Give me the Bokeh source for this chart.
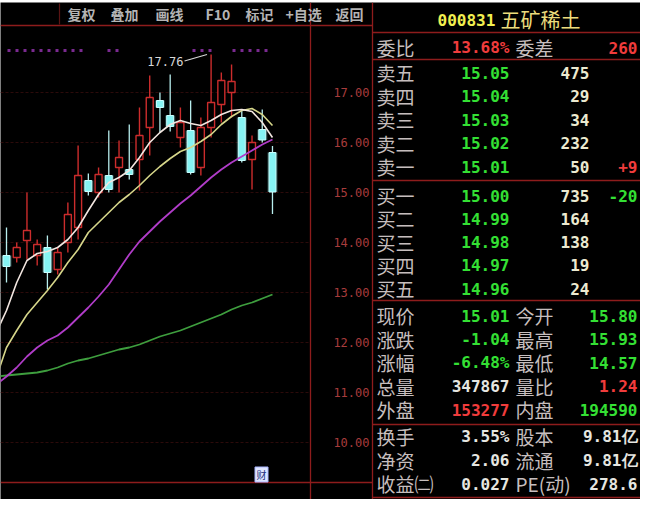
from bokeh.plotting import figure
from bokeh.models import Range1d, ColumnDataSource
from bokeh.core.properties import value
from bokeh.embed import file_html
from bokeh.resources import INLINE

# ---------------- data ----------------
opens  = [13.74, 13.70, 14.04, 13.74, 13.90, 13.46, 14.00, 14.30, 15.24, 15.00,
          15.34, 15.50, 15.46, 15.66, 16.30, 16.84, 16.54, 16.10, 16.24, 15.50,
          16.30, 16.76, 17.00, 16.50, 15.66, 16.26, 15.80]
highs  = [14.30, 14.00, 15.00, 14.06, 14.14, 13.90, 14.80, 15.94, 15.38, 15.50,
          16.24, 16.04, 16.36, 16.70, 17.34, 17.00, 17.36, 16.70, 16.84, 16.50,
          17.76, 17.40, 17.56, 16.66, 16.14, 16.66, 15.93]
lows   = [13.20, 13.60, 13.66, 13.54, 13.06, 13.36, 13.80, 14.06, 14.94, 14.90,
          15.00, 15.00, 15.26, 15.04, 15.74, 16.20, 16.22, 15.90, 15.36, 15.34,
          16.10, 16.40, 16.50, 15.60, 15.06, 16.00, 14.57]
closes = [13.52, 13.90, 14.24, 13.96, 13.40, 13.80, 14.56, 15.34, 15.02, 15.36,
          15.06, 15.70, 15.36, 16.14, 16.90, 16.70, 16.32, 16.40, 15.40, 16.30,
          16.80, 17.24, 17.22, 15.64, 16.00, 16.05, 15.01]

ma_start = -1
ma5  = [12.20, 12.64, 13.20, 13.64, 13.78, 13.82, 13.90, 14.06, 14.30, 14.64,
        14.96, 15.20, 15.30, 15.44, 15.70, 16.00, 16.20, 16.36, 16.44, 16.38,
        16.34, 16.44, 16.56, 16.64, 16.66, 16.62, 16.40, 16.10]
ma10 = [11.30, 11.90, 12.24, 12.56, 12.80, 13.04, 13.30, 13.60, 13.86, 14.20,
        14.40, 14.60, 14.80, 14.96, 15.14, 15.34, 15.52, 15.68, 15.82, 15.90,
        16.02, 16.16, 16.36, 16.52, 16.64, 16.68, 16.56, 16.34]
ma20 = [11.16, 11.32, 11.50, 11.72, 11.90, 12.04, 12.14, 12.30, 12.50, 12.70,
        12.92, 13.16, 13.46, 13.76, 14.02, 14.22, 14.42, 14.60, 14.78, 14.94,
        15.12, 15.30, 15.46, 15.60, 15.72, 15.84, 15.96, 16.06]
ma60 = [11.32, 11.34, 11.36, 11.38, 11.40, 11.44, 11.50, 11.58, 11.64, 11.68,
        11.74, 11.80, 11.86, 11.90, 11.96, 12.04, 12.12, 12.18, 12.24, 12.32,
        12.40, 12.48, 12.56, 12.66, 12.74, 12.80, 12.88, 12.96]

price_ticks = [17, 16, 15, 14, 13, 12, 11, 10]

toolbar_items = ["复权", "叠加", "画线", "F10", "标记", "+自选", "返回"]
stock_code = "000831"
stock_name = "五矿稀土"
wb_row = ["委比", "13.68%", "委差", "260"]
sell_labels = ["卖五", "卖四", "卖三", "卖二", "卖一"]
sell_prices = [15.05, 15.04, 15.03, 15.02, 15.01]
sell_vols = [475, 29, 34, 232, 50]
buy_labels = ["买一", "买二", "买三", "买四", "买五"]
buy_prices = [15.00, 14.99, 14.98, 14.97, 14.96]
buy_vols = [735, 164, 138, 19, 24]
sell_changes = ["", "", "", "", "+9"]
buy_changes = ["-20", "", "", "", ""]
quote_labels_l = ["现价", "涨跌", "涨幅", "总量", "外盘"]
quote_values_l = ["15.01", "-1.04", "-6.48%", "347867", "153277"]
quote_labels_r = ["今开", "最高", "最低", "量比", "内盘"]
quote_values_r = ["15.80", "15.93", "14.57", "1.24", "194590"]
fin_labels_l = ["换手", "净资", "收益㈡"]
fin_values_l = ["3.55%", "2.06", "0.027"]
fin_labels_r = ["股本", "流通", "PE(动)"]
fin_values_r = ["9.81亿", "9.81亿", "278.6"]

# ---------------- style / layout ----------------
RED_C = "#cc2c2c"
CYAN = "#86f4f4"
CYAN_W = "#b8eeee"
GREEN_T = "#34e034"
RED_T = "#f03c3c"
WHITE_T = "#e6e6e0"
VOL_T = "#ecead0"
LAB_T = "#c6bebe"
LINE_R = "#8e1c1c"
GRID_R = "#2c0a0a"
CJK = "Noto Sans CJK SC"
MONO = "DejaVu Sans Mono"

p = figure(width=640, height=499, output_backend="svg", toolbar_location=None,
           x_range=Range1d(8, 648), y_range=Range1d(507, 10),
           x_axis_location=None, y_axis_location=None,
           min_border_left=0, min_border_right=0, min_border_bottom=0, min_border_top=2,
           background_fill_color="#000000", border_fill_color="white",
           outline_line_color=None)
p.grid.visible = False
p.extra_x_ranges = {"idx": Range1d(-0.5865, 61.975)}
p.extra_y_ranges = {"price": Range1d(8.86, 18.8)}

# grid lines at price ticks (chart area)
p.segment(x0=[8] * len(price_ticks), x1=[318] * len(price_ticks),
          y0=price_ticks, y1=price_ticks, y_range_name="price",
          line_color=GRID_R, line_width=1, line_dash="3 2")

# frame lines
p.segment(x0=[8, 318, 380, 8], x1=[380, 318, 380, 380],
          y0=[33, 10, 10, 490], y1=[33, 507, 507, 490],
          line_color=LINE_R, line_width=1.3)
p.segment(x0=[380] * 6, x1=[648] * 6,
          y0=[40, 67, 188, 308, 432, 505], y1=[40, 67, 188, 308, 432, 505],
          line_color=LINE_R, line_width=1.5)
p.segment(x0=[67], x1=[67], y0=[11], y1=[32], line_color="#5a1414", line_width=1.2)

# purple dotted indicator row
p.segment(x0=[15, 115, 200, 240], x1=[90, 130, 222, 277], y0=[58] * 4, y1=[58] * 4,
          line_color="#7a2a90", line_width=3, line_dash="3 5")

# candles
idx = list(range(len(opens)))
def cdict(sel):
    return dict(x=[idx[i] for i in sel],
                top=[max(opens[i], closes[i]) for i in sel],
                bot=[min(opens[i], closes[i]) for i in sel],
                hi=[highs[i] for i in sel], lo=[lows[i] for i in sel])
up_sel = [i for i in idx if closes[i] >= opens[i]]
dn_sel = [i for i in idx if closes[i] < opens[i]]
su = ColumnDataSource(cdict(up_sel))
sd = ColumnDataSource(cdict(dn_sel))
kw = dict(x_range_name="idx", y_range_name="price")
p.segment(x0="x", x1="x", y0="hi", y1="top", source=su, line_color=RED_C, line_width=1.4, **kw)
p.segment(x0="x", x1="x", y0="bot", y1="lo", source=su, line_color=RED_C, line_width=1.4, **kw)
p.vbar(x="x", top="top", bottom="bot", width=0.68, source=su,
       fill_color="#000000", line_color=RED_C, line_width=1.4, **kw)
p.segment(x0="x", x1="x", y0="hi", y1="lo", source=sd, line_color=CYAN_W, line_width=1.3, **kw)
p.vbar(x="x", top="top", bottom="bot", width=1.0, source=sd,
       fill_color=CYAN, fill_alpha=0.25, line_color=None, **kw)
p.vbar(x="x", top="top", bottom="bot", width=0.68, source=sd,
       fill_color=CYAN, line_color="#c8ffff", line_width=1, **kw)

# moving averages
ma_x = [ma_start + k for k in range(len(ma5))]
for vals, col, w in [(ma60, "#3e9e3e", 1.8), (ma20, "#b03cc8", 1.8),
                     (ma10, "#d6d68a", 1.6), (ma5, "#f2e6e0", 1.6)]:
    p.line(ma_x, vals, line_color=col, line_width=w, **kw)

# highest price marker
hi_i = max(idx, key=lambda i: highs[i])
p.segment(x0=[hi_i - 2.6], x1=[hi_i - 0.4], y0=[highs[hi_i] - 0.13], y1=[highs[hi_i]],
          line_color="#d8d8d8", line_width=1.2, **kw)
p.text(x=[hi_i - 2.7], y=[highs[hi_i] - 0.14], text=[f"{highs[hi_i]:.2f}"],
       text_color="#d8d8d8", text_font=value(MONO), text_font_size="12px",
       text_align="right", text_baseline="middle", **kw)

# small icon at bottom of chart
p.rect(x=[269], y=[482], width=13, height=15, fill_color="#dfe6ff", line_color="#a8b4ff")
p.text(x=[269], y=[482], text=["财"], text_color="#203080", text_font=value(CJK),
       text_font_size="10px", text_align="center", text_baseline="middle")

# price axis labels
p.text(x=[377] * len(price_ticks), y=price_ticks, text=[f"{t:.2f}" for t in price_ticks],
       y_range_name="price", text_color="#a83c3c", text_font=value(MONO),
       text_font_size="12px", text_align="right", text_baseline="middle")

# toolbar
tb_x = [75, 118, 163, 213, 253, 293, 343]
p.text(x=tb_x, y=[21] * len(tb_x), text=toolbar_items, text_color="#b4b4b4",
       text_font=value(CJK), text_font_size="14px", text_font_style="bold",
       text_align="left", text_baseline="middle")

def txt(xs, ys, texts, color, size, font, align="left", bold=False):
    src = ColumnDataSource(dict(x=xs, y=ys, t=texts,
                                c=color if isinstance(color, list) else [color] * len(xs)))
    p.text(x="x", y="y", text="t", source=src, text_color="c", text_font_size=size,
           text_font=value(font), text_align=align, text_baseline="middle",
           text_font_style="bold" if bold else "normal")

X_LAB, X_VAL, X_VOL, X_LAB2, X_R = 384, 517, 597, 523, 645

# title
txt([445], [27], [stock_code], "#f2f050", "16px", MONO, bold=True)
txt([508], [27], [stock_name], "#ecdc7c", "20px", CJK)

# 委比 row
txt([X_LAB, X_LAB2], [55, 55], [wb_row[0], wb_row[2]], LAB_T, "19px", CJK)
txt([X_VAL], [55], [wb_row[1]], RED_T, "16px", MONO, "right", True)
txt([X_R], [55], [wb_row[3]], RED_T, "16px", MONO, "right", True)

# order book
sy = [80 + 23.5 * k for k in range(5)]
by = [203 + 23.3 * k for k in range(5)]
txt([X_LAB] * 5, sy, sell_labels, LAB_T, "19px", CJK)
txt([X_VAL] * 5, sy, [f"{v:.2f}" for v in sell_prices], GREEN_T, "16px", MONO, "right", True)
txt([X_VOL] * 5, sy, [str(v) for v in sell_vols], VOL_T, "16px", MONO, "right", True)
txt([X_R] * 5, sy, sell_changes, RED_T, "16px", MONO, "right", True)
txt([X_LAB] * 5, by, buy_labels, LAB_T, "19px", CJK)
txt([X_VAL] * 5, by, [f"{v:.2f}" for v in buy_prices], GREEN_T, "16px", MONO, "right", True)
txt([X_VOL] * 5, by, [str(v) for v in buy_vols], VOL_T, "16px", MONO, "right", True)
txt([X_R] * 5, by, buy_changes, GREEN_T, "16px", MONO, "right", True)

# quote block
qy = [323 + 23.5 * k for k in range(5)]
txt([X_LAB] * 5, qy, quote_labels_l, LAB_T, "19px", CJK)
txt([X_VAL] * 5, qy, quote_values_l, [GREEN_T, GREEN_T, GREEN_T, WHITE_T, RED_T], "16px", MONO, "right", True)
txt([X_LAB2] * 5, qy, quote_labels_r, LAB_T, "19px", CJK)
txt([X_R] * 5, qy, quote_values_r, [GREEN_T, GREEN_T, GREEN_T, RED_T, GREEN_T], "16px", MONO, "right", True)

# finance block
fy = [444 + 23.5 * k for k in range(3)]
txt([X_LAB] * 3, fy, fin_labels_l, LAB_T, "19px", CJK)
txt([X_VAL] * 3, fy, fin_values_l, WHITE_T, "16px", MONO, "right", True)
txt([X_LAB2] * 3, fy, fin_labels_r, LAB_T, "19px", CJK)
txt([X_R] * 3, fy, fin_values_r, WHITE_T, "16px", MONO, "right", True)

open("out.html", "w").write(file_html(p, INLINE))
